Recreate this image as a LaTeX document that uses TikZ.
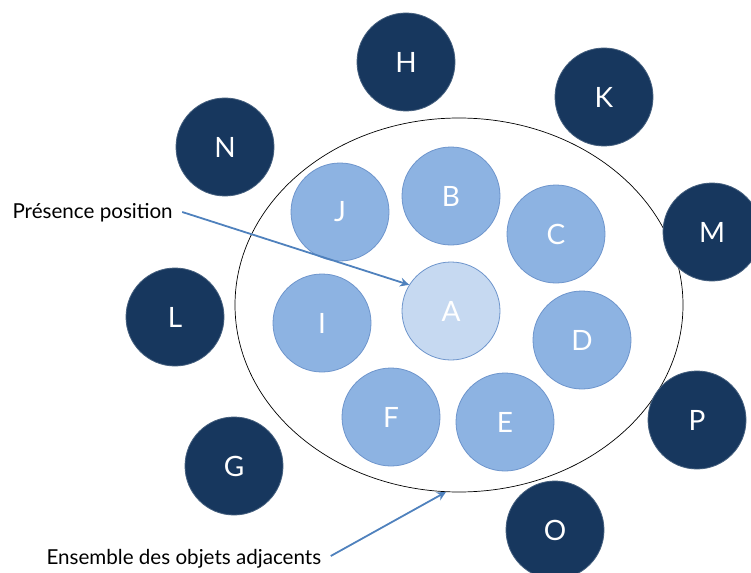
\documentclass[tikz,border=0pt]{standalone}
\usepackage{fontspec}
\setmainfont{Lato}
\usetikzlibrary{positioning,shapes.geometric}
\usetikzlibrary{arrows.meta}

\definecolor{navy}{HTML}{17375E}
\definecolor{midblue}{HTML}{8DB3E2}
\definecolor{midedge}{HTML}{6E95CC}
\definecolor{paleblue}{HTML}{C6D9F1}
\definecolor{arrowblue}{HTML}{4F81BD}

\tikzset{
    obj/.style={circle, minimum size=98pt, inner sep=0pt, text=white,
        font=\fontsize{28}{30}\selectfont},
    outerobj/.style={obj, fill=navy, draw=navy!80!white, line width=0.8pt},
    innerobj/.style={obj, fill=midblue, draw=midedge, line width=0.8pt},
    centreobj/.style={obj, fill=paleblue, draw=midedge, line width=0.8pt},
    lbl/.style={font=\fontsize{20.6}{23}\selectfont, text=black},
    pointer/.style={draw=arrowblue, line width=1.8pt, -{Stealth[length=9pt,width=9pt]}}
}

\begin{document}
\begin{tikzpicture}[x=1pt,y=-1pt]
        \useasboundingbox (0,0) rectangle (751,572);

        % Set of adjacent objects
        \node[ellipse, draw=black, line width=0.7pt, minimum width=448pt, minimum height=374pt, inner sep=0pt] (ens) at (459,305) {};

        % Objects outside the set
        \foreach \name/\x/\y in {H/406/62, K/604/97, N/225/147, M/712/232, L/175/317, P/697/420, G/234/466, O/555/530} {
            \node[outerobj] (\name) at (\x,\y) {\name};
        }

        % Objects inside the set
        \foreach \name/\x/\y in {J/340/212, B/451/196, C/556/234, I/322/323, D/582/340, F/391/417, E/505/422} {
            \node[innerobj] (\name) at (\x,\y) {\name};
        }

        % Present position
        \node[centreobj] (A) at (451,311) {A};

        % Labels
        \node[lbl, anchor=west] (presence) at (9,213) {Présence position};
        \node[lbl, anchor=west] (ensemble) at (43,559) {Ensemble des objets adjacents};

        \draw[pointer] (presence.east) ++(6,-1) -- (A.148);
        \draw[pointer] (ensemble.east) ++(6,-3) -- (ens.-94);

    \end{tikzpicture}
\end{document}
